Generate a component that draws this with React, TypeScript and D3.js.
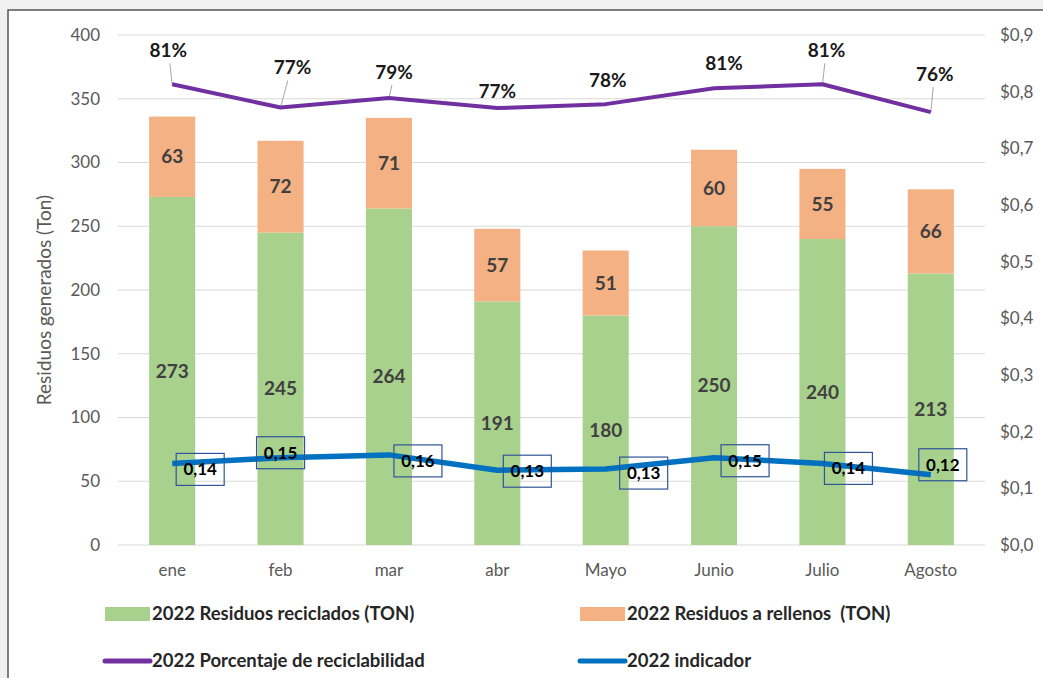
import { scaleBand, scaleLinear, line } from "d3";

const months = ["ene", "feb", "mar", "abr", "Mayo", "Junio", "Julio", "Agosto"];
const reciclados = [273, 245, 264, 191, 180, 250, 240, 213];
const rellenos = [63, 72, 71, 57, 51, 60, 55, 66];
const porcentaje = [0.813, 0.772, 0.789, 0.771, 0.778, 0.806, 0.813, 0.764];
const indicador = [0.144, 0.154, 0.159, 0.132, 0.134, 0.154, 0.144, 0.124];
const leftTicks = [0, 50, 100, 150, 200, 250, 300, 350, 400];
const rightTicks = [0, 0.1, 0.2, 0.3, 0.4, 0.5, 0.6, 0.7, 0.8, 0.9];

// label nudges (like manually dragged labels in excel)
const pctNudge = [[-4, -34], [12, -40], [5, -26], [0, -17], [2, -24], [10, -25], [4, -34], [4, -38]];
const pctLeader = [true, true, true, false, false, false, true, true];
const indNudge = [[28, 6], [0, -5], [29, 6], [30, 1], [38, 4], [31, 3], [26, 5], [12, -10]];

const W = 1043;
const H = 678;
const left = 118;
const right = 985;
const top = 35;
const bottom = 545;
const FONT = "Lato, 'Open Sans', sans-serif";

function App() {
    const x = scaleBand().domain(months).range([left, right]).paddingInner(0.575).paddingOuter(0.2875);
    const y = scaleLinear().domain([0, 400]).range([bottom, top]);
    const y2 = scaleLinear().domain([0, 0.9]).range([bottom, top]);
    const cx = (m: string) => (x(m) as number) + x.bandwidth() / 2;

    const pctLine = line<number>()
        .x((d, i) => cx(months[i]))
        .y((d) => y2(d));

    const fmt2 = (v: number) => v.toFixed(2).replace(".", ",");
    const fmt1 = (v: number) => "$" + v.toFixed(1).replace(".", ",");

    return (
        <svg
            width={W}
            height={H}
            style={{ position: "absolute", left: 0, top: 0, background: "#f0f0f0" }}
            fontFamily={FONT}
        >
            <rect x={8} y={10} width={W + 20} height={H + 20} fill="#fff" stroke="#555" strokeWidth={1.5} />

            {/* grid */}
            {leftTicks.map((t) => (
                <g key={t}>
                    <line x1={left} x2={right} y1={y(t)} y2={y(t)} stroke="#d9d9d9" strokeWidth={1} />
                    <text x={100} y={y(t)} dy="0.35em" textAnchor="end" fontSize={17} fill="#595959">
                        {t}
                    </text>
                </g>
            ))}
            {rightTicks.map((t) => (
                <text key={t} x={1000} y={y2(t)} dy="0.35em" fontSize={17} fill="#595959">
                    {fmt1(t)}
                </text>
            ))}
            <text
                transform={`translate(51, ${(top + bottom) / 2 + 10}) rotate(-90)`}
                textAnchor="middle"
                fontSize={19}
                fill="#595959"
            >
                Residuos generados (Ton)
            </text>

            {/* bars */}
            {months.map((m, i) => {
                const g = reciclados[i];
                const o = rellenos[i];
                return (
                    <g key={m}>
                        <rect x={x(m)} y={y(g)} width={x.bandwidth()} height={y(0) - y(g)} fill="#a9d18e" />
                        <rect x={x(m)} y={y(g + o)} width={x.bandwidth()} height={y(g) - y(g + o)} fill="#f4b183" />
                        <text x={cx(m)} y={y(g / 2)} dy="0.35em" textAnchor="middle" fontSize={19} fontWeight="bold" fill="#404040">
                            {g}
                        </text>
                        <text x={cx(m)} y={y(g + o / 2)} dy="0.35em" textAnchor="middle" fontSize={19} fontWeight="bold" fill="#404040">
                            {o}
                        </text>
                        <text x={cx(m)} y={570} dy="0.35em" textAnchor="middle" fontSize={17} fill="#595959">
                            {m}
                        </text>
                    </g>
                );
            })}

            {/* porcentaje line */}
            {months.map((m, i) =>
                pctLeader[i] ? (
                    <line
                        key={m}
                        x1={cx(m)}
                        y1={y2(porcentaje[i])}
                        x2={cx(m) + pctNudge[i][0] * 0.6}
                        y2={y2(porcentaje[i]) + pctNudge[i][1] + 13}
                        stroke="#a6a6a6"
                        strokeWidth={1}
                    />
                ) : null
            )}
            <path d={pctLine(porcentaje) || ""} fill="none" stroke="#7030a0" strokeWidth={4} strokeLinejoin="round" />
            {months.map((m, i) => (
                <text
                    key={m}
                    x={cx(m) + pctNudge[i][0]}
                    y={y2(porcentaje[i]) + pctNudge[i][1]}
                    dy="0.35em"
                    textAnchor="middle"
                    fontSize={19}
                    fontWeight="bold"
                    fill="#1a1a1a"
                >
                    {Math.round(porcentaje[i] * 100)}%
                </text>
            ))}

            {/* indicador line */}
            <path d={pctLine(indicador) || ""} fill="none" stroke="#0070c0" strokeWidth={5.5} strokeLinejoin="round" />
            {months.map((m, i) => {
                const lx = cx(m) + indNudge[i][0];
                const ly = y2(indicador[i]) + indNudge[i][1];
                return (
                    <g key={m}>
                        <rect x={lx - 24} y={ly - 16} width={48} height={32} fill="none" stroke="#2f5597" strokeWidth={1.2} />
                        <text x={lx} y={ly} dy="0.35em" textAnchor="middle" fontSize={17} fontWeight="bold" fill="#000">
                            {fmt2(indicador[i])}
                        </text>
                    </g>
                );
            })}

            {/* legend */}
            <g fontSize={18.5} fontWeight="bold" fill="#262626">
                <rect x={105} y={607} width={45} height={14} fill="#a9d18e" />
                <text x={152} y={614} dy="0.35em">2022 Residuos reciclados (TON)</text>
                <rect x={580} y={607} width={45} height={14} fill="#f4b183" />
                <text x={627} y={614} dy="0.35em" style={{ whiteSpace: "pre" }}>2022 Residuos a rellenos  (TON)</text>
                <line x1={105} x2={150} y1={661} y2={661} stroke="#7030a0" strokeWidth={5} strokeLinecap="round" />
                <text x={152} y={661} dy="0.35em">2022 Porcentaje de reciclabilidad</text>
                <line x1={580} x2={625} y1={661} y2={661} stroke="#0070c0" strokeWidth={5} strokeLinecap="round" />
                <text x={627} y={661} dy="0.35em">2022 indicador</text>
            </g>
        </svg>
    );
}

export default App;
